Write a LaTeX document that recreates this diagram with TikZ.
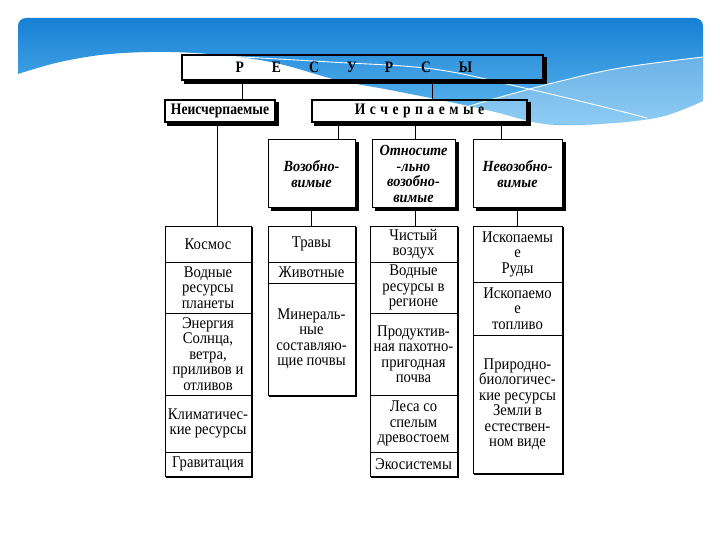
\documentclass[tikz,border=0pt]{standalone}
\usepackage{fontspec}
\setmainfont{Liberation Serif}
\newfontfamily\cellfont[FakeStretch=0.9]{Liberation Serif}
\newfontfamily\headfont[FakeStretch=0.85]{Liberation Serif}
\newfontfamily\midfont[FakeStretch=0.92]{Liberation Serif}
\begin{document}
\begin{tikzpicture}[x=1pt,y=-1pt,
  box/.style={draw, line width=0.8pt, inner sep=0pt, align=center},
  lvl1/.style={box, line width=1.5pt, font=\headfont\bfseries\fontsize{16}{16}\selectfont},
  lvl2/.style={box, line width=1pt, font=\midfont\bfseries\itshape\fontsize{15.5}{15.5}\selectfont},
  cell/.style={box, line width=0.8pt, font=\cellfont\fontsize{16.3}{15.5}\selectfont},
  shadowA/.style={line width=3pt},
  shadowC/.style={line width=1.4pt},
  conn/.style={line width=0.8pt},
  wline/.style={white, line width=0.9pt}]
\definecolor{bluetop}{RGB}{22,128,212}
\definecolor{bluebot}{RGB}{100,186,240}
\useasboundingbox (0,0) rectangle (720,540);
\fill[white] (0,0) rectangle (720,540);
% slide header
\shade[top color=bluetop, bottom color=bluebot]
  (18,74) [rounded corners=8pt] -- (18,18) -- (703,18) [sharp corners] -- (703,101)
  -- plot[smooth, tension=0.6] coordinates {(703,101) (660,117) (600,124) (545,124) (495,112) (450,102) (390,90) (337,80) (280,64) (230,56) (170,52) (110,54) (60,62) (18,74)} -- cycle;
\fill[white, opacity=0.28]
  plot[smooth, tension=0.6] coordinates {(703,57) (620,68) (553,83) (490,100) (447,113)}
  -- plot[smooth, tension=0.6] coordinates {(447,113) (500,122) (545,124) (600,124) (660,117) (703,101)} -- cycle;
\draw[wline] plot[smooth, tension=0.6] coordinates {(703,57) (620,68) (553,83) (490,100) (447,113)};
\draw[wline] plot[smooth, tension=0.6] coordinates {(205,55) (330,62) (433,69) (520,87) (600,106) (647,118)};
% level 1
\node[lvl1, minimum width=361pt, minimum height=25pt] (res) at (362.5,67.5)
  {Р\hspace{28pt}Е\hspace{28pt}С\hspace{28pt}У\hspace{28pt}Р\hspace{28pt}С\hspace{28pt}Ы\hspace{17pt}};
\node[lvl1, line width=1.2pt, minimum width=110pt, minimum height=22pt] (neis) at (220,111) {Неисчерпаемые};
\node[lvl1, line width=1.2pt, minimum width=215pt, minimum height=22pt] (isch) at (419.5,111)
  {И\hspace{4.5pt}с\hspace{4.5pt}ч\hspace{4.5pt}е\hspace{4.5pt}р\hspace{4.5pt}п\hspace{4.5pt}а\hspace{4.5pt}е\hspace{4.5pt}м\hspace{4.5pt}ы\hspace{4.5pt}е};
% level 2
\node[lvl2, minimum width=87pt, minimum height=68pt] (vozob) at (311.5,174) {Возобно-\\вимые};
\node[lvl2, minimum width=83pt, minimum height=68pt] (otn) at (413.5,174) {Относите\\-льно\\возобно-\\вимые};
\node[lvl2, minimum width=89pt, minimum height=68pt] (nevoz) at (517.5,174) {Невозобно-\\вимые};
% column 1
\node[cell, minimum width=86pt, minimum height=36pt] (a1) at (208,244) {Космос};
\node[cell, minimum width=86pt, minimum height=51pt] (a2) at (208,287.5) {Водные\\ресурсы\\планеты};
\node[cell, minimum width=86pt, minimum height=82pt] (a3) at (208,354) {Энергия\\Солнца,\\ветра,\\приливов и\\отливов};
\node[cell, minimum width=86pt, minimum height=57pt] (a4) at (208,423.5) {Климатичес-\\кие ресурсы};
\node[cell, minimum width=86pt, minimum height=24pt] (a5) at (208,464) {Гравитация};
% column 2
\node[cell, minimum width=87pt, minimum height=36pt] (b1) at (311.5,244) {Травы};
\node[cell, minimum width=87pt, minimum height=21pt] (b2) at (311.5,272.5) {Животные};
\node[cell, minimum width=87pt, minimum height=112pt] (b3) at (311.5,339) {Минераль-\\ные\\составляю-\\щие почвы};
% column 3
\node[cell, minimum width=87pt, minimum height=36pt] (c1) at (413.5,244) {Чистый\\воздух};
\node[cell, minimum width=87pt, minimum height=51pt] (c2) at (413.5,287.5) {Водные\\ресурсы в\\регионе};
\node[cell, minimum width=87pt, minimum height=82pt] (c3) at (413.5,354) {Продуктив-\\ная пахотно-\\пригодная\\почва};
\node[cell, minimum width=87pt, minimum height=57pt] (c4) at (413.5,423.5) {Леса со\\спелым\\древостоем};
\node[cell, minimum width=87pt, minimum height=24pt] (c5) at (413.5,464) {Экосистемы};
% column 4
\node[cell, minimum width=89pt, minimum height=56pt] (d1) at (517.5,254) {Ископаемы\\е\\Руды};
\node[cell, minimum width=89pt, minimum height=53pt] (d2) at (517.5,308.5) {Ископаемо\\е\\топливо};
\node[cell, minimum width=89pt, minimum height=138pt] (d3) at (517.5,404) {Природно-\\биологичес-\\кие ресурсы\\Земли в\\естествен-\\ном виде};
% shadows
\foreach \n in {res,neis,isch,vozob,otn,nevoz}
  \draw[shadowA] ([shift={(1.5pt,-3pt)}]\n.north east) |- ([shift={(3pt,-1.5pt)}]\n.south west);
\draw[shadowC] ([shift={(0.7pt,-1.4pt)}]a1.north east) |- ([shift={(1.4pt,-0.7pt)}]a5.south west);
\draw[shadowC] ([shift={(0.7pt,-1.4pt)}]b1.north east) |- ([shift={(1.4pt,-0.7pt)}]b3.south west);
\draw[shadowC] ([shift={(0.7pt,-1.4pt)}]c1.north east) |- ([shift={(1.4pt,-0.7pt)}]c5.south west);
\draw[shadowC] ([shift={(0.7pt,-1.4pt)}]d1.north east) |- ([shift={(1.4pt,-0.7pt)}]d3.south west);
% connectors
\draw[conn] ([xshift=22pt]neis.north) -- ([xshift=22pt]neis.north |- res.south);
\draw[conn] ([xshift=12.5pt]isch.north) -- ([xshift=12.5pt]isch.north |- res.south);
\draw[conn] ([xshift=26.5pt]vozob.north) -- ([xshift=26.5pt]vozob.north |- isch.south);
\draw[conn] ([xshift=1.5pt]otn.north) -- ([xshift=1.5pt]otn.north |- isch.south);
\draw[conn] ([xshift=-16.5pt]nevoz.north) -- ([xshift=-16.5pt]nevoz.north |- isch.south);
\draw[conn] ([xshift=-3pt]neis.south) -- ([xshift=-3pt]neis.south |- a1.north);
\draw[conn] (vozob.south) -- (b1.north);
\draw[conn] ([xshift=1.5pt]otn.south) -- ([xshift=1.5pt]otn.south |- c1.north);
\draw[conn] (nevoz.south) -- (d1.north);
\end{tikzpicture}
\end{document}
